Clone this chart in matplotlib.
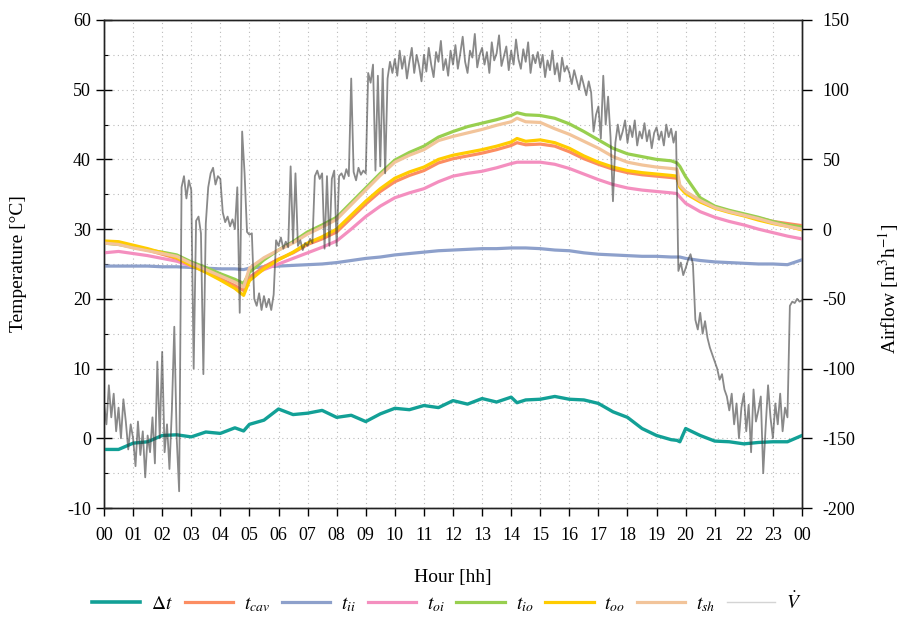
import numpy as np
import matplotlib
matplotlib.use("Agg")
import matplotlib.pyplot as plt
from matplotlib.lines import Line2D

plt.rcParams['font.family'] = ['Liberation Serif', 'DejaVu Serif']
plt.rcParams['mathtext.fontset'] = 'stix'
plt.rcParams['axes.unicode_minus'] = False

# ---- temperature series (hours of day, °C) ----
hours_t = [0, 0.5, 1, 1.5, 2, 2.5, 3, 3.5, 4, 4.5, 4.8, 5, 5.5, 6, 6.5, 7, 7.5, 8, 8.5, 9,
           9.5, 10, 10.5, 11, 11.5, 12, 12.5, 13, 13.5, 14, 14.2, 14.5, 15, 15.5, 16, 16.5,
           17, 17.5, 18, 18.5, 19, 19.5, 19.7, 19.8, 20, 20.5, 21, 21.5, 22, 22.5, 23, 23.5, 24]

t_io = [28.0, 27.8, 27.4, 27.0, 26.7, 26.3, 25.3, 24.5, 23.6, 22.8, 22.2, 23.8, 25.6, 27.0,
        28.2, 29.6, 30.6, 31.7, 33.8, 35.9, 38.0, 39.9, 41.0, 41.9, 43.2, 44.0, 44.7, 45.2,
        45.7, 46.3, 46.7, 46.4, 46.3, 45.9, 45.1, 44.0, 42.8, 41.6, 40.8, 40.4, 40.0, 39.8,
        39.5, 39.0, 37.5, 34.5, 33.3, 32.7, 32.2, 31.7, 31.1, 30.6, 30.3]
t_sh = [28.0, 27.8, 27.3, 26.9, 26.5, 26.1, 25.1, 24.2, 23.3, 22.4, 21.7, 24.4, 25.9, 27.0,
        28.0, 29.3, 30.3, 31.4, 33.5, 35.6, 37.7, 39.6, 40.6, 41.4, 42.7, 43.3, 43.8, 44.3,
        44.9, 45.4, 45.9, 45.4, 45.3, 44.4, 43.6, 42.6, 41.6, 40.4, 39.6, 39.2, 38.9, 38.7,
        38.6, 36.3, 35.4, 34.1, 33.1, 32.5, 32.0, 31.5, 30.9, 30.4, 30.0]
t_oo = [28.3, 28.2, 27.7, 27.2, 26.6, 25.9, 24.8, 23.8, 22.7, 21.5, 20.5, 22.6, 24.3, 25.6,
        26.7, 28.0, 28.9, 30.0, 32.0, 34.0, 35.8, 37.3, 38.2, 38.9, 40.0, 40.6, 41.0, 41.4,
        41.9, 42.5, 43.0, 42.6, 42.8, 42.4, 41.6, 40.5, 39.6, 38.9, 38.4, 38.1, 37.9, 37.7,
        37.6, 36.0, 35.1, 33.9, 33.0, 32.4, 31.9, 31.3, 30.8, 30.4, 29.9]
t_cav = [28.0, 27.9, 27.5, 27.0, 26.4, 25.8, 24.8, 23.9, 22.9, 21.9, 21.2, 23.0, 24.6, 25.7,
         26.6, 27.8, 28.6, 29.6, 31.6, 33.6, 35.4, 36.8, 37.7, 38.4, 39.5, 40.1, 40.5, 40.9,
         41.4, 42.0, 42.4, 42.1, 42.2, 41.9, 41.1, 40.1, 39.3, 38.6, 38.1, 37.8, 37.6, 37.4,
         37.3, 36.2, 35.3, 34.1, 33.2, 32.6, 32.1, 31.6, 31.1, 30.8, 30.5]
t_oi = [26.6, 26.8, 26.5, 26.2, 25.8, 25.4, 24.7, 24.1, 23.4, 22.6, 22.0, 23.2, 24.2, 25.0,
        25.8, 26.6, 27.4, 28.3, 30.0, 31.8, 33.3, 34.5, 35.2, 35.8, 36.8, 37.6, 38.0, 38.3,
        38.8, 39.4, 39.6, 39.6, 39.6, 39.3, 38.7, 37.9, 37.1, 36.4, 35.9, 35.6, 35.4, 35.2,
        35.1, 34.6, 33.7, 32.5, 31.7, 31.1, 30.6, 30.0, 29.5, 29.0, 28.6]
t_ii = [24.7, 24.7, 24.7, 24.7, 24.6, 24.6, 24.5, 24.4, 24.3, 24.3, 24.2, 24.4, 24.6, 24.7,
        24.8, 24.9, 25.0, 25.2, 25.5, 25.8, 26.0, 26.3, 26.5, 26.7, 26.9, 27.0, 27.1, 27.2,
        27.2, 27.3, 27.3, 27.3, 27.2, 27.0, 26.9, 26.6, 26.4, 26.3, 26.2, 26.1, 26.1, 26.0,
        26.0, 26.0, 25.8, 25.5, 25.3, 25.2, 25.1, 25.0, 25.0, 24.9, 25.6]

# temperature difference
hours_dt = [0, 0.5, 0.55, 1.45, 1.8, 2.0, 2.5, 2.6, 3.5, 3.7, 4.45, 4.7, 4.9, 5.45, 5.7, 6.0,
            6.5, 6.8, 7.5, 7.75, 8.5, 8.9, 9.2, 9.6, 9.9, 10.4, 10.6, 11.5, 11.6, 12.4, 12.5,
            13.0, 13.6, 14.2, 14.5, 15.0, 15.5, 16.1, 16.5, 17.3, 17.8, 18.2, 19.0, 19.6, 19.8,
            20.3, 21.1, 21.7, 22.45, 22.5, 23.0, 23.5, 24.0]
delta_t = [-1.6, -1.6, -0.7, -0.5, 0.4, 0.5, 0.2, 0.9, 0.7, 1.5, 1.05, 2.0, 2.6, 4.2, 3.4, 3.6,
           4.0, 3.0, 3.3, 2.4, 3.5, 4.3, 4.1, 4.7, 4.4, 5.4, 4.9, 5.7, 5.2, 5.9, 5.1, 5.5, 5.6,
           6.0, 5.6, 5.5, 5.0, 3.8, 3.0, 1.4, 0.4, -0.2, -0.3, -0.5, 1.4, 0.4, -0.4, -0.5, -0.8,
           -0.6, -0.5, -0.5, 0.4]

# ---- airflow, 5-minute samples (m3/h), one row per hour ----
airflow = [
    -125, -140, -112, -135, -118, -145, -128, -150, -122, -138, -158, -140,   # 00
    -150, -170, -138, -162, -145, -178, -148, -160, -135, -168, -95, -150,    # 01
    -88, -160, -140, -172, -130, -70, -150, -188, 30, 38, 22, 35,             # 02
    28, -100, 6, 9, -3, -104, 4, 30, 40, 44, 32, 38,                          # 03
    36, 12, 5, 9, 2, 7, 0, 30, -60, 70, 40, -2,                               # 04
    -4, -3, -50, -55, -46, -58, -48, -56, -50, -58, -47, -8,                  # 05
    -12, -6, -14, -9, -13, 45, -10, 40, -12, -8, -15, -10,                    # 06
    -12, -7, -10, 38, 42, 36, 40, -14, 38, -12, 36, 42,                       # 07
    -12, 38, 40, 36, 43, 38, 108, 41, 35, 44, 39, 42,                         # 08
    40, 112, 105, 118, 42, 110, 45, 115, 40, 108, 120, 112,                   # 09
    122, 110, 128, 115, 124, 108, 120, 130, 112, 125, 117, 106,               # 10
    125, 113, 130, 118, 109, 127, 120, 135, 114, 122, 110, 128,               # 11
    118, 132, 115, 126, 138, 120, 112, 128, 123, 140, 116, 125,               # 12
    130, 118, 127, 112, 134, 121, 126, 139, 117, 124, 131, 114,               # 13
    128, 118, 136, 122, 115, 129, 120, 134, 112, 125, 119, 127,               # 14
    116, 125, 109, 121, 114, 128, 111, 119, 106, 123, 113, 117,               # 15
    112, 104, 114, 107, 100, 110, 103, 96, 106, 98, 70, 82,                   # 16
    88, 65, 110, 75, 95, 66, 20, 62, 75, 64, 70, 78,                          # 17
    62, 74, 66, 78, 60, 70, 65, 76, 63, 71, 58, 69,                           # 18
    73, 64, 70, 60, 75, 66, 72, 62, 70, -30, -24, -33,                        # 19
    -28, -22, -18, -25, -65, -72, -60, -75, -66, -78, -85, -90,               # 20
    -95, -100, -108, -104, -115, -120, -130, -118, -140, -125, -150, -128,    # 21
    -118, -145, -126, -160, -115, -138, -130, -120, -175, -142, -112, -135,   # 22
    -150, -125, -140, -118, -145, -128, -135, -55, -52, -53, -50, -52,        # 23
    -51,
]
airflow_minutes = np.arange(0, 24 * 60 + 1, 5)

hour_labels = [f"{h:02d}" for h in range(24)] + ["00"]

colors = {
    'dt': '#12a096', 'cav': '#fc8d62', 'ii': '#8da0cb', 'oi': '#f48fbf',
    'io': '#98cf4f', 'oo': '#ffcc00', 'sh': '#f2c49a', 'v': '#3a3a3a',
}

fig = plt.figure(figsize=(9.06, 6.32), dpi=100)
ax = fig.add_axes([0.1148, 0.1962, 0.7704, 0.7722])
ax2 = ax.twinx()

lw = 2.3
ax.plot(hours_t, t_ii, color=colors['ii'], lw=lw, zorder=3)
ax.plot(hours_t, t_oi, color=colors['oi'], lw=lw, zorder=3)
ax.plot(hours_t, t_cav, color=colors['cav'], lw=lw, zorder=3)
ax.plot(hours_t, t_oo, color=colors['oo'], lw=lw, zorder=4)
ax.plot(hours_t, t_sh, color=colors['sh'], lw=lw, zorder=4)
ax.plot(hours_t, t_io, color=colors['io'], lw=lw, zorder=3)
ax.plot(hours_t, delta_t, color=colors['dt'], lw=2.4, zorder=5)

ax2.plot(airflow_minutes / 60.0, airflow, color=colors['v'], lw=1.3, alpha=0.6)

# axes ranges and ticks
ax.set_xlim(0, 24)
ax.set_ylim(-10, 60)
ax2.set_ylim(-200, 150)

ax.set_xticks(range(25))
ax.set_xticklabels(hour_labels)
ax.set_yticks(range(-10, 61, 10))
ax.set_yticks(range(-5, 60, 10), minor=True)
ax2.set_yticks(range(-200, 151, 50))

ax.tick_params(axis='x', direction='out', length=6, width=1, labelsize=13, pad=8)
ax.tick_params(axis='y', which='major', direction='inout', length=11, width=1, labelsize=13, pad=4)
ax.tick_params(axis='y', which='minor', direction='in', length=3, width=0.8)
ax2.tick_params(axis='y', direction='out', length=7, width=1, labelsize=13, pad=8)

for a in (ax, ax2):
    for s in a.spines.values():
        s.set_color('#222222')
        s.set_linewidth(1.0)

# dotted grid every hour and every 5 °C
ax.set_axisbelow(True)
ax.grid(True, which='both', axis='y', linestyle=(0, (1, 3)), color='#bbbbbb', lw=0.8)
ax.grid(True, which='major', axis='x', linestyle=(0, (1, 3)), color='#bbbbbb', lw=0.8)

ax.set_xlabel('Hour [hh]', fontsize=14, labelpad=18)
ax.set_ylabel('Temperature [°C]', fontsize=14)
ax.yaxis.set_label_coords(-0.11, 0.5)
ax2.set_ylabel(r'Airflow [m$^{3}$h$^{-1}$]', fontsize=14, rotation=90)
ax2.yaxis.set_label_coords(1.106, 0.45)

handles = [
    Line2D([], [], color=colors['dt'], lw=2.6),
    Line2D([], [], color=colors['cav'], lw=2.3),
    Line2D([], [], color=colors['ii'], lw=2.3),
    Line2D([], [], color=colors['oi'], lw=2.3),
    Line2D([], [], color=colors['io'], lw=2.3),
    Line2D([], [], color=colors['oo'], lw=2.3),
    Line2D([], [], color=colors['sh'], lw=2.3),
    Line2D([], [], color='#d4d4d4', lw=1.0),
]
labels = [r'$\mathit{\Delta t}$', r'$t_{cav}$', r'$t_{ii}$', r'$t_{oi}$', r'$t_{io}$',
          r'$t_{oo}$', r'$t_{sh}$', r'$\dot{V}$']
fig.legend(handles, labels, loc='center', bbox_to_anchor=(0.493, 0.046), ncol=8,
           frameon=False, fontsize=14, handlelength=2.5, handletextpad=0.55,
           columnspacing=0.6)

fig.savefig('out.png', dpi=100)
